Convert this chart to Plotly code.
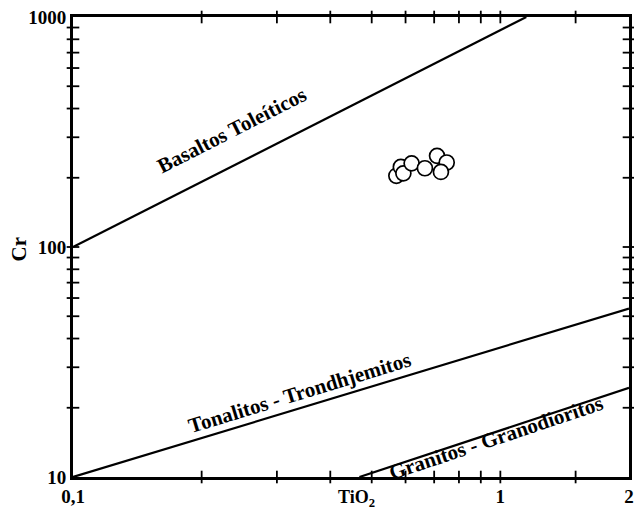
import numpy as np
import plotly.graph_objects as go

# Sample data (TiO2 wt%, Cr ppm)
tio2 = [0.571, 0.585, 0.593, 0.620, 0.666, 0.711, 0.749, 0.726]
cr = [204, 223, 209, 231, 220, 249, 233, 212]

# Discriminant boundary lines (endpoints)
basalt_x = [0.1, 1.15]
basalt_y = [100, 1000]
tonal_x = [0.1, 2.0]
tonal_y = [10, 54]
granit_x = [0.468, 2.0]
granit_y = [10, 24.4]

# Axis limits and ticks
x_range = [0.1, 2.0]
y_range = [10, 1000]
x_tickvals = [0.1, 1, 2]
x_ticktext = ["0,1", "1", "2"]
y_tickvals = [10, 100, 1000]
y_ticktext = ["10", "100", "1000"]
x_minor = [0.2, 0.3, 0.4, 0.5, 0.6, 0.7, 0.8, 0.9, 1.0, 1.5]
y_minor = [20, 30, 40, 50, 60, 70, 80, 90, 100,
           200, 300, 400, 500, 600, 700, 800, 900]

FONT = "Liberation Serif"

fig = go.Figure()
for xs, ys in [(basalt_x, basalt_y), (tonal_x, tonal_y), (granit_x, granit_y)]:
    fig.add_trace(go.Scatter(x=xs, y=ys, mode="lines",
                             line=dict(color="black", width=2.2),
                             showlegend=False, hoverinfo="skip"))

# tick marks along the frame (drawn as line markers on the axis edges)
tick_style = dict(mode="markers", showlegend=False, hoverinfo="skip",
                  cliponaxis=False)
for yv in (y_range[0], y_range[1]):
    fig.add_trace(go.Scatter(x=x_minor, y=[yv] * len(x_minor),
                             marker=dict(symbol="line-ns", size=9,
                                         line=dict(color="black", width=1.8)),
                             **tick_style))
for xv in (x_range[0], x_range[1]):
    fig.add_trace(go.Scatter(x=[xv] * len(y_minor), y=y_minor,
                             marker=dict(symbol="line-ew", size=9,
                                         line=dict(color="black", width=1.8)),
                             **tick_style))

fig.add_trace(go.Scatter(x=tio2, y=cr, mode="markers",
                         marker=dict(size=15, color="white", symbol="circle",
                                     line=dict(color="black", width=1.7)),
                         showlegend=False))

labels = [
    ("Basaltos Toleíticos", 0.236, 322, -27),
    ("Tonalitos - Trondhjemitos", 0.338, 23.2, -17),
    ("Granitos - Granodioritos", 0.975, 14.8, -18.5),
]
for txt, lx, ly, ang in labels:
    fig.add_annotation(x=np.log10(lx), y=np.log10(ly), xref="x", yref="y",
                       text="<b>%s</b>" % txt, showarrow=False, textangle=ang,
                       font=dict(family=FONT, size=21, color="black"))

fig.add_annotation(x=0.51, y=-0.075, xref="paper", yref="paper",
                   text="<b>TiO<sub>2</sub></b>", showarrow=False,
                   font=dict(family=FONT, size=18, color="black"))
fig.add_annotation(x=-0.122, y=0.495, xref="paper", yref="paper",
                   text="<b>Cr</b>", showarrow=False, textangle=-90,
                   font=dict(family=FONT, size=21, color="black"))

fig.update_layout(template="none")
axis_common = dict(ticks="", showticklabels=True,
                   showline=True, linewidth=3, linecolor="black",
                   mirror=True, showgrid=False, zeroline=False,
                   tickmode="array", layer="above traces",
                   tickfont=dict(family=FONT, size=19, color="black",
                                 weight="bold"))
fig.update_xaxes(type="log", range=list(np.log10(x_range)), tickvals=x_tickvals,
                 ticktext=x_ticktext, **axis_common)
fig.update_yaxes(type="log", range=list(np.log10(y_range)), tickvals=y_tickvals,
                 ticktext=y_ticktext, **axis_common)

fig.update_layout(width=634, height=513, plot_bgcolor="white",
                  paper_bgcolor="white",
                  margin=dict(l=73, r=5, t=17, b=36),
                  font=dict(family=FONT, color="black"))

fig.write_html("out.html")
